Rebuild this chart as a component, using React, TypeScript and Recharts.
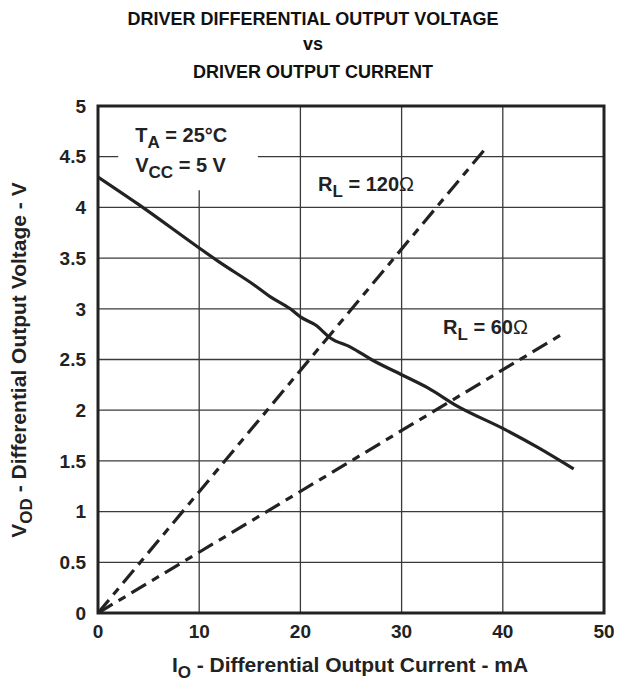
import React from "react";
import {
  LineChart,
  Line,
  XAxis,
  YAxis,
  CartesianGrid,
  ReferenceArea,
} from "recharts";

const xTicks = [0, 10, 20, 30, 40, 50];
const yTicks = [0, 0.5, 1, 1.5, 2, 2.5, 3, 3.5, 4, 4.5, 5];

const vodCurve = [
  { x: 0, y: 4.3 },
  { x: 4, y: 4.03 },
  { x: 10, y: 3.6 },
  { x: 12, y: 3.46 },
  { x: 15.5, y: 3.23 },
  { x: 17, y: 3.12 },
  { x: 19, y: 3.0 },
  { x: 20, y: 2.92 },
  { x: 21.5, y: 2.84 },
  { x: 23, y: 2.71 },
  { x: 25, y: 2.62 },
  { x: 27, y: 2.5 },
  { x: 30, y: 2.35 },
  { x: 32.6, y: 2.22 },
  { x: 35.5, y: 2.04 },
  { x: 40, y: 1.82 },
  { x: 43.5, y: 1.63 },
  { x: 47, y: 1.42 },
];

const load120 = [
  { x: 0, y: 0 },
  { x: 38.2, y: 4.57 },
];

const load60 = [
  { x: 0, y: 0 },
  { x: 46.2, y: 2.77 },
];

const FONT = "'Liberation Sans', Arial, Helvetica, sans-serif";
const INK = "#222";
const FS = 20;
const SUB = 17;

function ConditionsLabel(props: any) {
  const vb = props.viewBox || { x: 0, y: 0 };
  const x = vb.x + 17;
  const y = vb.y;
  return (
    <g fontFamily={FONT} fontWeight="bold" fill={INK} fontSize={FS}>
      <text x={x} y={y + 36}>
        T<tspan fontSize={SUB} dy={6}>A</tspan>
        <tspan dy={-6}> = 25°C</tspan>
      </text>
      <text x={x} y={y + 66}>
        V<tspan fontSize={SUB} dy={6}>CC</tspan>
        <tspan dy={-6}> = 5 V</tspan>
      </text>
    </g>
  );
}

export default function App() {
  return (
    <div style={{ width: 614, height: 680, fontFamily: FONT }}>
      <LineChart
        width={614}
        height={680}
        margin={{ top: 98, right: 18, left: 0, bottom: 0 }}
      >
        <CartesianGrid stroke="#3a3a3a" strokeWidth={1.3} vertical horizontal />
        <XAxis
          type="number"
          dataKey="x"
          domain={[0, 50]}
          ticks={xTicks}
          allowDataOverflow
          height={75}
          tickLine={false}
          axisLine={false}
          tickSize={0}
          tickMargin={12}
          tick={{ fill: INK, fontSize: 19, fontWeight: "bold", fontFamily: FONT }}
        />
        <YAxis
          type="number"
          dataKey="y"
          domain={[0, 5]}
          ticks={yTicks}
          allowDataOverflow
          width={90}
          tickLine={false}
          axisLine={false}
          tickSize={0}
          tickMargin={12}
          tick={{ fill: INK, fontSize: 19, fontWeight: "bold", fontFamily: FONT }}
        />
        <ReferenceArea
          x1={2}
          x2={15.8}
          y1={4.17}
          y2={5}
          fill="#fff"
          fillOpacity={1}
          stroke="none"
          label={<ConditionsLabel />}
        />
        <ReferenceArea
          x1={0}
          x2={50}
          y1={0}
          y2={5}
          fill="none"
          stroke={INK}
          strokeWidth={3}
        />
        <Line
          data={load120}
          dataKey="y"
          type="linear"
          stroke={INK}
          strokeWidth={3.2}
          strokeDasharray="17 7 8 7"
          dot={false}
          isAnimationActive={false}
        />
        <Line
          data={load60}
          dataKey="y"
          type="linear"
          stroke={INK}
          strokeWidth={3.2}
          strokeDasharray="17 7 8 7"
          dot={false}
          isAnimationActive={false}
        />
        <Line
          data={vodCurve}
          dataKey="y"
          type="monotone"
          stroke={INK}
          strokeWidth={3.2}
          dot={false}
          isAnimationActive={false}
        />
        <g fontFamily={FONT} fontWeight="bold" fill="#111" fontSize={18}>
          <text x={305} y={17} textAnchor="middle">
            DRIVER DIFFERENTIAL OUTPUT VOLTAGE
          </text>
          <text x={305} y={42} textAnchor="middle">
            vs
          </text>
          <text x={305} y={70} textAnchor="middle">
            DRIVER OUTPUT CURRENT
          </text>
        </g>
        <g fontFamily={FONT} fontWeight="bold" fill={INK} fontSize={FS}>
          <text x={310} y={183}>
            R<tspan fontSize={SUB} dy={6}>L</tspan>
            <tspan dy={-6}> = 120</tspan>
            <tspan fontWeight="normal">Ω</tspan>
          </text>
          <text x={435} y={326}>
            R<tspan fontSize={SUB} dy={6}>L</tspan>
            <tspan dy={-6}> = 60</tspan>
            <tspan fontWeight="normal">Ω</tspan>
          </text>
          <text x={342} y={664} textAnchor="middle" fontSize={21}>
            I<tspan fontSize={SUB} dy={6}>O</tspan>
            <tspan dy={-6}> - Differential Output Current - mA</tspan>
          </text>
          <text
            x={0}
            y={0}
            textAnchor="middle"
            fontSize={21}
            transform="translate(18 352) rotate(-90)"
          >
            V<tspan fontSize={SUB} dy={6}>OD</tspan>
            <tspan dy={-6}> - Differential Output Voltage - V</tspan>
          </text>
        </g>
      </LineChart>
    </div>
  );
}
